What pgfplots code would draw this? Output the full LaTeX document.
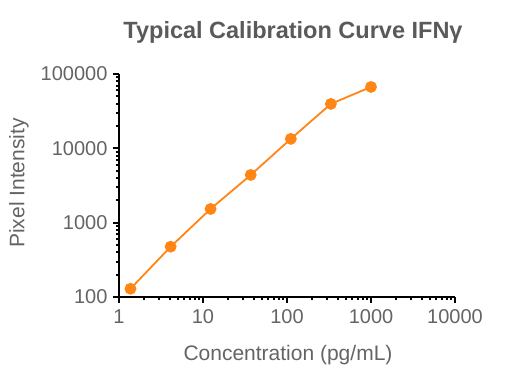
\documentclass[border=0pt]{standalone}
\usepackage{fontspec}
\setmainfont{Liberation Sans}
\usepackage{pgfplots}
\pgfplotsset{compat=1.18}
\definecolor{curveorange}{RGB}{255,133,20}
\definecolor{txtgray}{RGB}{100,100,100}
\definecolor{titlegray}{RGB}{90,90,90}
\begin{document}
\begin{tikzpicture}
\useasboundingbox (0,0) rectangle (510bp,382bp);
\begin{axis}[
  at={(119bp,85bp)}, anchor=south west,
  scale only axis, width=336bp, height=223bp,
  xmode=log, ymode=log,
  xmin=1, xmax=10000, ymin=100, ymax=100000,
  axis x line*=bottom, axis y line*=left,
  axis line style={line width=2bp, black},
  xtick={1,10,100,1000,10000}, xticklabels={1,10,100,1000,10000},
  ytick={100,1000,10000,100000}, yticklabels={100,1000,10000,100000},
  minor tick num=0, minor xtick={}, minor ytick={},
  tick align=outside, major tick length=6bp,
  every tick/.style={line width=2bp, black},
  /pgf/number format/assume math mode=true,
  tick label style={font=\fontsize{20bp}{24bp}\selectfont, text=txtgray},
  xticklabel style={yshift=-3bp},
  yticklabel style={xshift=-2bp},
  clip=false,
]
\addplot[color=curveorange, line width=1.8bp, mark=*, mark size=5bp,
  mark options={fill=curveorange, draw=curveorange}]
  coordinates {(1.37,129) (4.12,475) (12.3,1528) (37,4385) (111,13400) (333,39600) (1000,67000)};
\end{axis}
\node[font=\fontsize{23.5bp}{28bp}\selectfont\bfseries, text=titlegray] at (293bp,350bp) {Typical Calibration Curve IFNγ};
\node[font=\fontsize{21bp}{25bp}\selectfont, text=txtgray] at (288bp,27bp) {Concentration (pg/mL)};
\node[font=\fontsize{21bp}{25bp}\selectfont, text=txtgray, rotate=90] at (19bp,199bp) {Pixel Intensity};
\end{tikzpicture}
\end{document}
